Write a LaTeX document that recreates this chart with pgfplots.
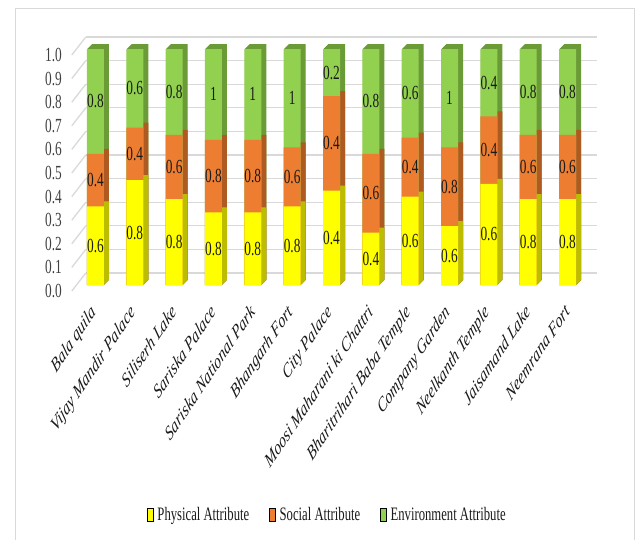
\documentclass[border=0pt]{standalone}
\usepackage{pgfplots}
\pgfplotsset{compat=1.18}
\usepackage{pgfplotstable}
\usepackage{graphicx}
\usepackage{fontspec}
\setmainfont{Liberation Serif}
\newfontfamily\tallfont{Liberation Serif}[FakeStretch=0.6667]
\definecolor{yf}{HTML}{FFFF00}
\definecolor{ys}{HTML}{BDBD00}
\definecolor{of}{HTML}{ED7D31}
\definecolor{os}{HTML}{AE5A21}
\definecolor{gf}{HTML}{92D050}
\definecolor{gs}{HTML}{6B9B37}
\definecolor{gridc}{HTML}{D9D9D9}
\definecolor{tickc}{HTML}{404040}
\definecolor{labc}{HTML}{1A1A1A}
\newcommand\lab[1]{\scalebox{1}[1.5]{\rotatebox{45}{#1}}}

\pgfplotstableread{
x p s e
0 0.6 0.4 0.8
1 0.8 0.4 0.6
2 0.8 0.6 0.8
3 0.8 0.8 1
4 0.8 0.8 1
5 0.8 0.6 1
6 0.4 0.4 0.2
7 0.4 0.6 0.8
8 0.6 0.4 0.6
9 0.6 0.8 1
10 0.6 0.4 0.4
11 0.8 0.6 0.8
12 0.8 0.6 0.8
}\data

\begin{document}
\begin{tikzpicture}
\path[use as bounding box] (0,0) rectangle (637bp,-540bp);
\draw[gridc, line width=1bp] (15.5bp,-545bp) -- (15.5bp,-8.5bp) -- (634.5bp,-8.5bp) -- (634.5bp,-545bp);
\begin{axis}[
  scale only axis, width=511.4bp, height=236bp,
  at={(75.8bp,-285bp)}, anchor=south west,
  xmin=-0.5, xmax=12.5, ymin=0, ymax=1,
  clip=false,
  axis line style={draw=none},
  major tick length=0pt, tick style={draw=none},
  ytick={0,0.1,0.2,0.3,0.4,0.5,0.6,0.7,0.8,0.9,1},
  ymajorgrids,
  major grid style={draw=gridc, line width=1.3bp, xshift=10bp, yshift=12bp},
  xtick={0,...,12},
  xticklabels={\lab{Bala quila},\lab{Vijay Mandir Palace},\lab{Siliserh Lake},\lab{Sariska Palace},\lab{Sariska National Park},\lab{Bhangarh Fort},\lab{City Palace},\lab{Moosi Maharani ki Chattri},\lab{Bharitrihari Baba Temple},\lab{Company Garden},\lab{Neelkanth Temple},\lab{Jaisamand Lake},\lab{Neemrana Fort}},
  xticklabel style={font=\fontsize{13.5bp}{16bp}\selectfont\itshape, text=labc, anchor=north east, inner sep=0pt, xshift=3bp, yshift=-18bp},
  /pgf/number format/assume math mode=true,
  yticklabel style={font=\tallfont\fontsize{20bp}{22bp}\selectfont, text=tickc, anchor=east, inner sep=0pt, xshift=-13.8bp, yshift=-6bp, /pgf/number format/fixed, /pgf/number format/fixed zerofill, /pgf/number format/precision=1},
  bars/.style={ybar, bar width=17bp, bar shift=0pt, draw=none, forget plot},
  vals/.style={only marks, mark=none, forget plot, point meta=explicit symbolic, nodes near coords, nodes near coords style={anchor=center, inner sep=0pt, font=\tallfont\fontsize{20bp}{22bp}\selectfont, text=labc}},
  legend style={at={(0.490,-0.975)}, anchor=center, draw=none, fill=none, font=\tallfont\fontsize{19bp}{21bp}\selectfont, column sep=4bp, /tikz/every even column/.append style={column sep=20bp}, nodes={inner sep=0pt, text=labc}},
  legend columns=3,
  legend image code/.code={\fill[#1] (0bp,-6.5bp) rectangle (6bp,6.5bp);},
]
% left-side depth connectors
\pgfplotsinvokeforeach{0,0.1,0.2,0.3,0.4,0.5,0.6,0.7,0.8,0.9,1}{
  \draw[gridc, line width=1.3bp] ([xshift=-4bp,yshift=-6bp]axis cs:-0.5,#1) -- ([xshift=10bp,yshift=12bp]axis cs:-0.5,#1);
}
% side faces (3D depth)
\pgfplotsinvokeforeach{5,4.5,4,3.5,3,2.5,2,1.5,1,0.5}{
  \addplot[bars, fill=gs, xshift=#1bp, yshift=#1bp] table[x=x, y expr={(\thisrow{p}+\thisrow{s}+\thisrow{e})/(\thisrow{p}+\thisrow{s}+\thisrow{e})}]{\data};
}
\pgfplotsinvokeforeach{5,4.5,4,3.5,3,2.5,2,1.5,1,0.5}{
  \addplot[bars, fill=os, xshift=#1bp, yshift=#1bp] table[x=x, y expr={(\thisrow{p}+\thisrow{s})/(\thisrow{p}+\thisrow{s}+\thisrow{e})}]{\data};
}
\pgfplotsinvokeforeach{5,4.5,4,3.5,3,2.5,2,1.5,1,0.5}{
  \addplot[bars, fill=ys, xshift=#1bp, yshift=#1bp] table[x=x, y expr={\thisrow{p}/(\thisrow{p}+\thisrow{s}+\thisrow{e})}]{\data};
}
% front faces
\addplot[bars, fill=gf] table[x=x, y expr={(\thisrow{p}+\thisrow{s}+\thisrow{e})/(\thisrow{p}+\thisrow{s}+\thisrow{e})}]{\data};
\addplot[bars, fill=of] table[x=x, y expr={(\thisrow{p}+\thisrow{s})/(\thisrow{p}+\thisrow{s}+\thisrow{e})}]{\data};
\addplot[bars, fill=yf] table[x=x, y expr={\thisrow{p}/(\thisrow{p}+\thisrow{s}+\thisrow{e})}]{\data};
% value labels
\addplot[vals] table[x=x, y expr={\thisrow{p}/(2*(\thisrow{p}+\thisrow{s}+\thisrow{e}))}, meta=p]{\data};
\addplot[vals] table[x=x, y expr={(\thisrow{p}+0.5*\thisrow{s})/(\thisrow{p}+\thisrow{s}+\thisrow{e})}, meta=s]{\data};
\addplot[vals] table[x=x, y expr={(\thisrow{p}+\thisrow{s}+0.5*\thisrow{e})/(\thisrow{p}+\thisrow{s}+\thisrow{e})}, meta=e]{\data};
% legend
\addlegendimage{fill=yf}
\addlegendentry{Physical Attribute}
\addlegendimage{fill=of}
\addlegendentry{Social Attribute}
\addlegendimage{fill=gf}
\addlegendentry{Environment Attribute}
\end{axis}
\end{tikzpicture}
\end{document}
